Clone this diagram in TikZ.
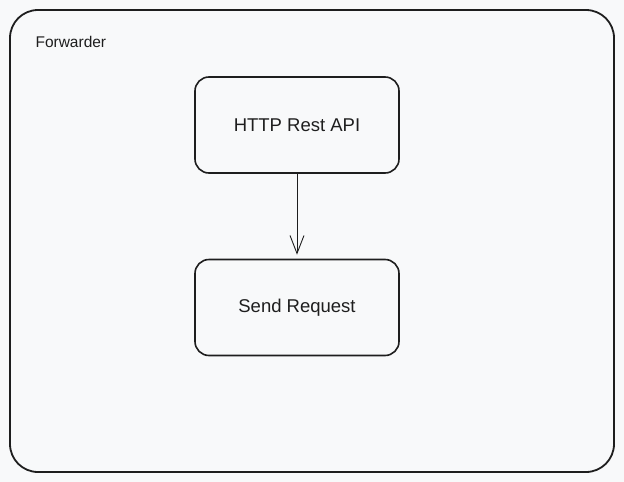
\documentclass[tikz,border=0pt]{standalone}
\usepackage{fontspec}
\setmainfont{Liberation Sans}
\usetikzlibrary{arrows.meta}
\definecolor{bgcol}{HTML}{F8F9FA}
\definecolor{inkcol}{HTML}{1E1E1E}
\tikzset{
  stagebox/.style={draw=inkcol, line width=1.6pt, rounded corners=14pt, minimum width=204pt, minimum height=96pt, font=\fontsize{18.5}{22}\selectfont, text=inkcol}
}
\begin{document}
\begin{tikzpicture}[x=1pt, y=-1pt]
\fill[bgcol] (0,0) rectangle (624,482);
\useasboundingbox (0,0) rectangle (624,482);
\draw[inkcol, line width=1.8pt, rounded corners=28pt] (10,10) rectangle (614,472);
\node[anchor=west, text=inkcol, font=\fontsize{15.5}{18}\selectfont] (fwd) at (32,42) {Forwarder};
\node[stagebox] (api) at (297,125) {HTTP Rest API};
\node[stagebox] (send) at (297,307.5) {Send Request};
\draw[inkcol, line width=0.9pt, -{Straight Barb[length=18pt, width=14pt]}] (api.south) -- ([yshift=4pt]send.north);
\end{tikzpicture}
\end{document}
